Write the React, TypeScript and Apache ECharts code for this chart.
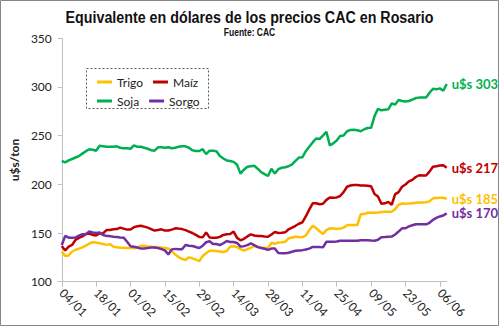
import React, { useEffect, useRef } from 'react';
import * as echarts from 'echarts';

const TITLE = 'Equivalente en dólares de los precios CAC en Rosario';
const SUBTITLE = 'Fuente: CAC';
const Y_NAME = 'u$s/ton';
const SERIES_NAMES = ['Trigo', 'Maíz', 'Soja', 'Sorgo'];
const COLORS = ['#FFC000', '#C00000', '#00B050', '#7030A0'];
const START_DATE = [2016, 0, 4];
const N_POINTS = 113;

const trigo = [
  131, 126.5, 127, 131, 132.8, 134, 135.3, 137, 139.2, 140.5,
  140.3, 139.5, 138.8, 137.8, 138.6, 136, 135.4, 134.9, 134.8, 134.7,
  134.5, 134.3, 135.2, 136.8, 136.8, 136.2, 135.8, 135.6, 135.3, 135.2,
  134.6, 134, 131.3, 127.9, 125.3, 123.5, 122.3, 125, 124, 122.8,
  121, 126.5, 129.2, 131.8, 131.8, 131.5, 131, 130.3, 131.5, 136,
  136.3, 135.5, 133.5, 132, 133.5, 134.8, 136.7, 136, 135.2, 134.8,
  134.4, 140, 138.9, 140.2, 140.5, 141, 144.5, 145.4, 146.2, 145.8,
  145.6, 147.5, 152.8, 157.5, 155, 151.8, 149, 153, 154.8, 154.5,
  154.2, 154.5, 155.5, 158, 158.2, 158.2, 158.2, 169.3, 169.4, 170.8,
  170.8, 170.8, 171.1, 171.5, 171.9, 171.9, 171.9, 174.5, 179, 180.3,
  180, 180.2, 180.6, 181, 181.2, 181.4, 181.6, 182.5, 185.6, 186,
  186.2, 186.2, 185,
];

const maiz = [
  136.7, 132, 136, 137.7, 143, 145, 146.5, 149, 149.5, 148,
  147.5, 149.5, 149.5, 153, 153, 153.8, 154, 155.5, 154.5, 153.5,
  153.5, 156, 157, 157.5, 156.5, 155.5, 154, 152.5, 153, 153.8,
  152.5, 152.5, 153.5, 154.8, 154.5, 154, 153, 151.5, 150, 148,
  146, 145.5, 150.5, 145.5, 145.2, 145.2, 146, 148, 148.7, 149,
  151.5, 145, 142.5, 144, 146.5, 148.6, 147.5, 147, 146.9, 146.5,
  146.2, 148.5, 151, 150, 150.2, 150.7, 153.8, 155.5, 157.4, 159.5,
  161, 167, 174, 180.5, 180.5, 179.5, 180, 184, 186.5, 186.3,
  186.5, 188, 192, 197.5, 198.8, 199.2, 199.2, 198.8, 198.8, 198.6,
  198, 190, 187.5, 180, 180.5, 182, 179, 190, 192, 197.5,
  199.8, 203, 204.5, 207.5, 209.3, 209, 209, 213, 218, 218.5,
  219.2, 219.5, 217,
];

const soja = [
  224, 222.5, 224.5, 226, 227.5, 229, 231.5, 234, 236, 235.5,
  234.5, 239.5, 239, 238.5, 238.5, 238.5, 239, 237.5, 237, 237,
  236.5, 240, 238.5, 238.5, 237.5, 236.5, 235, 234.5, 238, 238,
  237.5, 238, 237, 237.5, 238.5, 239, 239, 237.5, 235, 234.2,
  234.2, 236, 231, 234.5, 234.5, 234, 229, 226.5, 224.5, 224,
  223, 220, 211, 215, 218, 218.5, 219, 216, 212.5, 210.5,
  208.5, 216, 211, 215.5, 217, 217.5, 218.5, 220.5, 224, 227.5,
  227.7, 234, 238.5, 243, 247, 246.5, 250, 254, 240, 242,
  245, 249.5, 250, 254.5, 255.8, 256, 255.5, 254.5, 256.5, 257.8,
  258, 270, 277.5, 276, 276.5, 277, 283, 282, 286.5, 285.5,
  285, 285.5, 287, 288.5, 289, 289, 289, 294, 298, 297.5,
  298.5, 296, 303,
];

const sorgo = [
  137.7, 147, 145.2, 145.2, 145.5, 147.2, 148.7, 148.7, 151.5, 150.6,
  149.9, 150.5, 148, 147, 146.8, 146.2, 145.8, 145.4, 145.2, 141,
  136.5, 135.8, 135.1, 134, 134.1, 134.5, 135, 135.1, 134.6, 133.5,
  132.2, 128, 133.2, 133.7, 133.3, 133.3, 137.7, 137, 136.7, 135.6,
  134.5, 137, 140.5, 141.5, 138.7, 138.7, 137.5, 139.5, 141.7, 140.8,
  140.8, 139.8, 136, 136.5, 137.6, 139.3, 137.5, 135.5, 134.6, 133.8,
  132.7, 134, 134, 129.5, 129.2, 129.2, 129.8, 130.8, 131.8, 132.1,
  132.4, 133, 134, 135.7, 135.6, 135.5, 135.3, 141, 141, 141,
  141.2, 142, 142.1, 142.1, 142.1, 142.1, 142.1, 142.5, 142.6, 142.5,
  142.2, 142.1, 143, 145.6, 145.8, 146.1, 146.3, 148.5, 151.5, 154.8,
  154.9, 156.8, 158, 158.9, 158.9, 158.9, 158.9, 160.5, 163.5, 165.5,
  167, 168, 170.2,
];

const SERIES_DATA = [trigo, maiz, soja, sorgo];

function buildDates(): string[] {
  const out: string[] = [];
  const d = new Date(START_DATE[0], START_DATE[1], START_DATE[2]);
  while (out.length < N_POINTS) {
    const wd = d.getDay();
    if (wd !== 0 && wd !== 6) {
      const dd = String(d.getDate()).padStart(2, '0');
      const mm = String(d.getMonth() + 1).padStart(2, '0');
      out.push(dd + '/' + mm);
    }
    d.setDate(d.getDate() + 1);
  }
  return out;
}

const FONT = 'Lato, "Open Sans", sans-serif';
const TITLE_FONT = '"Liberation Sans", Arial, sans-serif';

export default function App() {
  const ref = useRef<HTMLDivElement>(null);
  useEffect(() => {
    document.body.style.margin = '0';
    if (!ref.current) return;
    const chart = echarts.init(ref.current, undefined, { renderer: 'svg' });
    const dates = buildDates();
    const legendCommon = {
      icon: 'rect',
      itemWidth: 15,
      itemHeight: 3,
      itemGap: 10,
      textStyle: { fontFamily: FONT, fontSize: 12, color: '#222', width: 31 },
    };
    chart.setOption({
      animation: false,
      backgroundColor: '#fff',
      legend: [
        { ...legendCommon, data: [SERIES_NAMES[0], SERIES_NAMES[1]], left: 92, top: 71 },
        { ...legendCommon, data: [SERIES_NAMES[2], SERIES_NAMES[3]], left: 92, top: 90 },
      ],
      graphic: [
        {
          type: 'rect',
          shape: { x: 0.5, y: 0.5, width: 498, height: 325 },
          style: { fill: 'none', stroke: '#868686', lineWidth: 1 },
          silent: true,
        },
        {
          type: 'rect',
          shape: { x: 86.5, y: 68.5, width: 122, height: 40 },
          style: { fill: 'none', stroke: '#595959', lineWidth: 1, lineDash: [2, 2] },
          silent: true,
        },
        {
          type: 'text',
          x: 249.5,
          y: 17,
          scaleX: 0.84,
          silent: true,
          style: {
            text: TITLE,
            fontFamily: TITLE_FONT,
            fontSize: 17,
            fontWeight: 'bold',
            fill: '#111',
            textAlign: 'center',
            textVerticalAlign: 'middle',
          },
        },
        {
          type: 'text',
          x: 249.5,
          y: 33,
          scaleX: 0.85,
          silent: true,
          style: {
            text: SUBTITLE,
            fontFamily: TITLE_FONT,
            fontSize: 10,
            fontWeight: 'bold',
            fill: '#111',
            textAlign: 'center',
            textVerticalAlign: 'middle',
          },
        },
      ],
      grid: { left: 53.5, right: 52.3, top: 38.2, bottom: 44.3, containLabel: false },
      xAxis: {
        type: 'category',
        data: dates,
        boundaryGap: false,
        axisLine: { lineStyle: { color: '#BFBFBF', width: 1 } },
        axisTick: { show: true, interval: 9, length: 5, lineStyle: { color: '#BFBFBF' } },
        axisLabel: {
          interval: 9,
          rotate: -45,
          margin: 9,
          fontFamily: FONT,
          fontSize: 12,
          color: '#222',
        },
        splitLine: { show: false },
      },
      yAxis: {
        type: 'value',
        min: 100,
        max: 350,
        interval: 50,
        name: Y_NAME,
        nameLocation: 'middle',
        nameGap: 32,
        nameTextStyle: { fontFamily: FONT, fontSize: 12, fontWeight: 'bold', color: '#222' },
        axisLine: { show: true, lineStyle: { color: '#BFBFBF', width: 1 } },
        axisTick: { show: true, length: 4, lineStyle: { color: '#BFBFBF' } },
        axisLabel: { margin: 10, fontFamily: FONT, fontSize: 12, color: '#222' },
        splitLine: { show: false },
      },
      series: SERIES_NAMES.map((name, k) => ({
        name,
        type: 'line',
        data: SERIES_DATA[k],
        symbol: 'none',
        color: COLORS[k],
        lineStyle: { color: COLORS[k], width: 2.5 },
        z: k === 2 ? 3 : 2 + k * 0.1,
        endLabel: {
          show: true,
          formatter: (p: any) => 'u$s ' + Math.round(p.value),
          color: COLORS[k],
          fontFamily: FONT,
          fontSize: 13,
          fontWeight: 'bold',
          distance: 5,
        },
      })),
    });
    return () => chart.dispose();
  }, []);
  return <div ref={ref} style={{ width: 499, height: 326 }} />;
}
